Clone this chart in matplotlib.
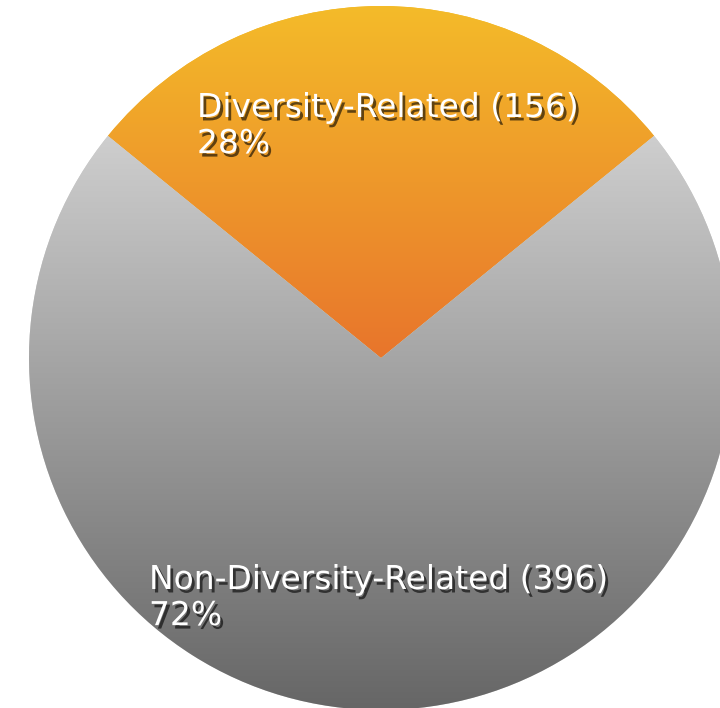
import matplotlib
matplotlib.use('Agg')
import matplotlib.pyplot as plt
import matplotlib.patheffects as pe
from matplotlib.colors import to_rgb
import numpy as np

# chart data
labels = ['Diversity-Related', 'Non-Diversity-Related']
counts = [156, 396]
percents = [28, 72]
# gradient colours (top, bottom) per slice
grad_top = ['#F4BB29', '#CECECE']
grad_bottom = ['#E8752C', '#666666']

fig = plt.figure(figsize=(7.2, 7.08), dpi=100)
ax = fig.add_axes([0, 0, 1, 1])

cx, cy, r = 381, 350, 352
half = 180 * counts[0] / sum(counts)
start = 90 - half  # diversity slice centred at the top

wedges, _ = ax.pie(counts, startangle=start, center=(cx, cy), radius=r,
                   colors=grad_top, frame=True,
                   wedgeprops=dict(linewidth=0))

# fill each slice with a vertical gradient clipped to the wedge
edge_y = cy + r * np.sin(np.radians(start))
spans = [(cy + r, cy), (edge_y, cy - r)]
for i, w in enumerate(wedges):
    top_y, bot_y = spans[i]
    t = np.linspace(0, 1, 256)[:, None]
    c0 = np.array(to_rgb(grad_top[i]))
    c1 = np.array(to_rgb(grad_bottom[i]))
    img = (c0 * (1 - t) + c1 * t)[:, None, :]
    im = ax.imshow(img, extent=(cx - r, cx + r, bot_y, top_y), aspect='auto',
                   interpolation='bilinear', zorder=2)
    im.set_clip_path(w)
    if i == 1:
        # fill the band above the gradient with the top colour
        im2 = ax.imshow(np.array([[c0]]), extent=(cx - r, cx + r, top_y, cy + r),
                        aspect='auto', zorder=2)
        im2.set_clip_path(w)

ax.set_xlim(0, 720)
ax.set_ylim(0, 708)
ax.axis('off')

shadow = [pe.SimplePatchShadow(offset=(2, -2.5), shadow_rgbFace='black', alpha=0.6),
          pe.Normal()]
label_pos = [(197, 617), (149, 145)]
for i, (x, y) in enumerate(label_pos):
    ax.text(x, y, f'{labels[i]} ({counts[i]})\n{percents[i]}%', color='white',
            fontsize=23.7, family='DejaVu Sans', ha='left', va='top',
            linespacing=1.12, zorder=5, path_effects=shadow)

fig.savefig('out.png', dpi=100, facecolor='white')
